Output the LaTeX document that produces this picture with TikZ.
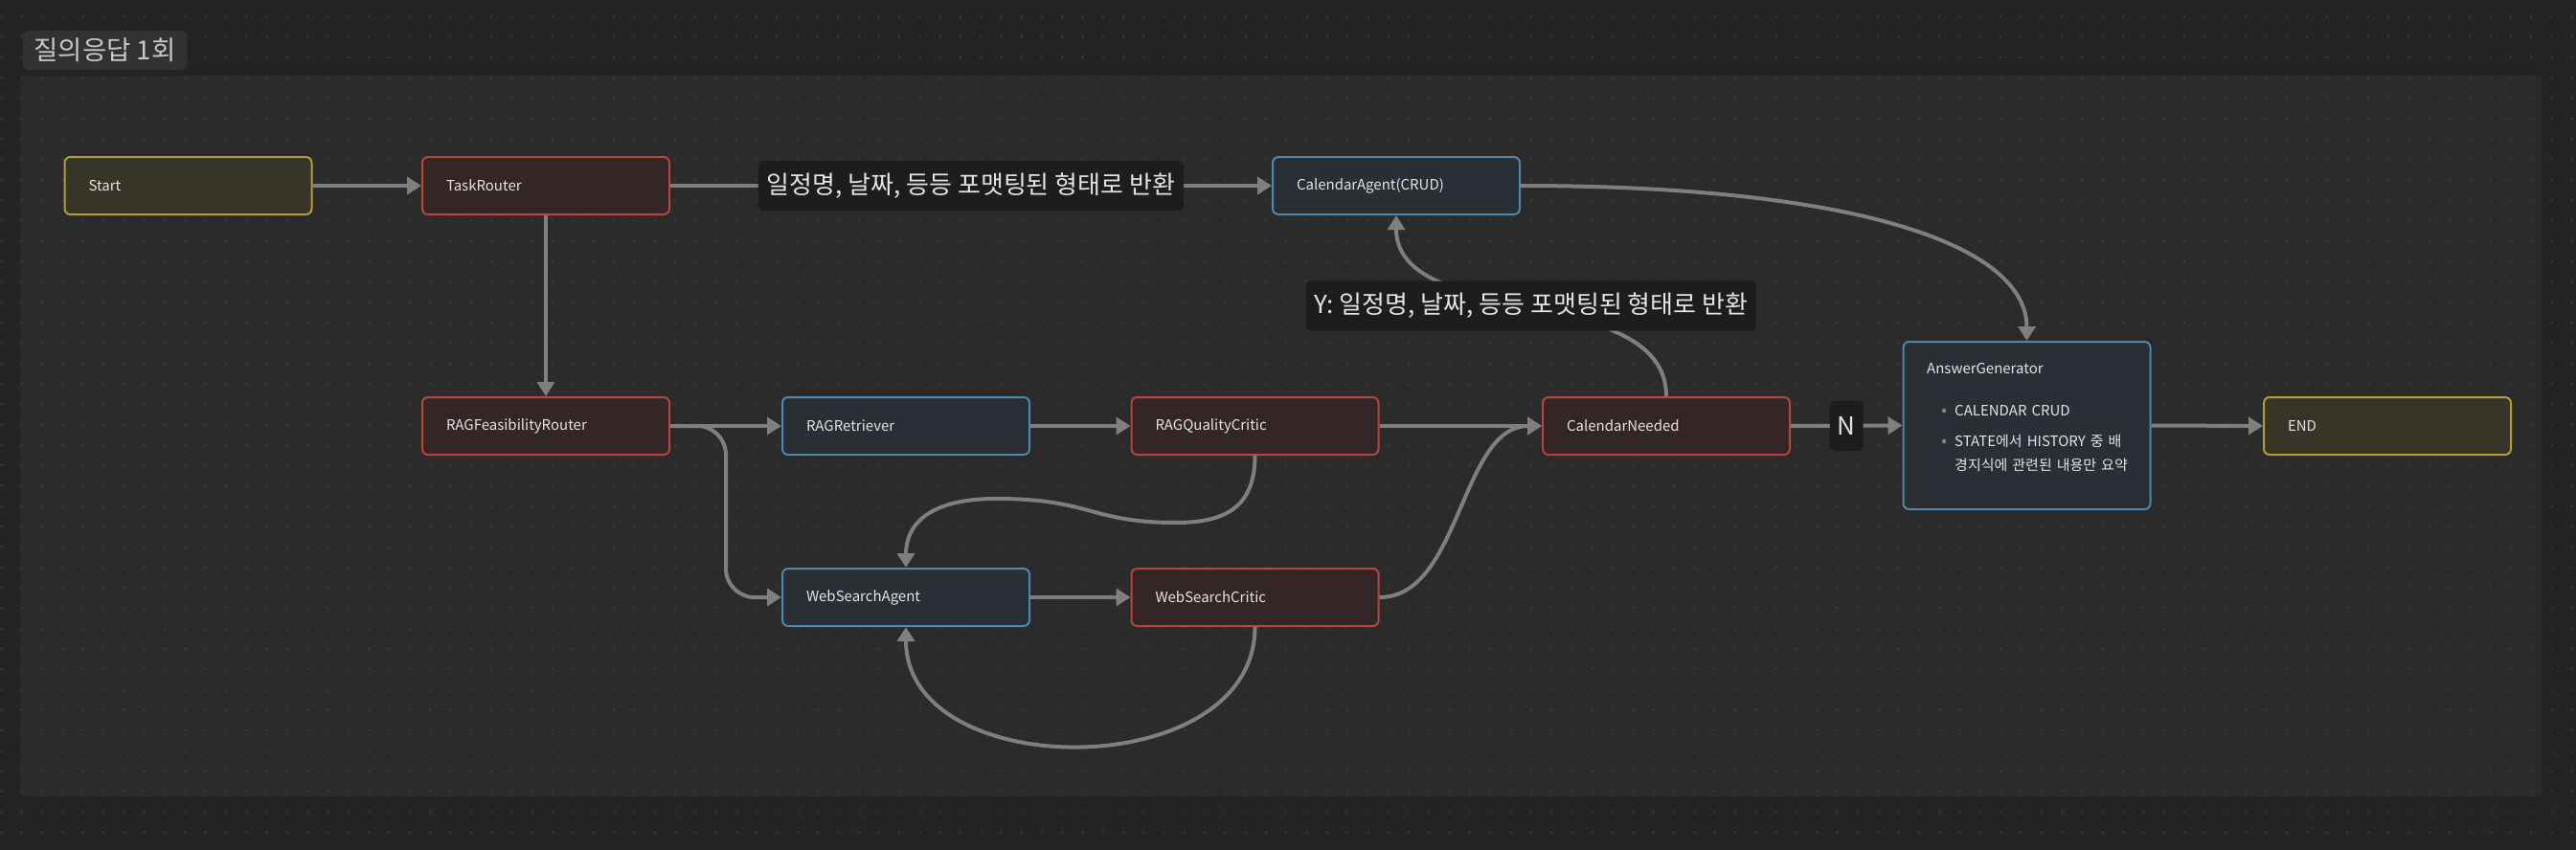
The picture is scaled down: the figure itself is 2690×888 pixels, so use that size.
\documentclass[tikz,border=0pt]{standalone}
\usepackage{fontspec}
\setmainfont{Noto Sans CJK KR}
\usetikzlibrary{arrows.meta}
\definecolor{bgouter}{HTML}{242424}
\definecolor{bggroup}{HTML}{2B2B2B}
\definecolor{griddot}{HTML}{3A3A3A}
\definecolor{flowgrey}{HTML}{7F7F7F}
\definecolor{nodetext}{HTML}{E4E4E4}
\definecolor{endfill}{HTML}{373428}
\definecolor{enddraw}{HTML}{B49B3C}
\definecolor{routefill}{HTML}{342626}
\definecolor{routedraw}{HTML}{B4463C}
\definecolor{agentfill}{HTML}{2A2F35}
\definecolor{agentdraw}{HTML}{5087AA}
\definecolor{labelfill}{HTML}{1D1D1D}
\definecolor{badgefill}{HTML}{323232}
\definecolor{badgetext}{HTML}{C8C8C8}
\definecolor{bulletgrey}{HTML}{8A8A8A}
\newcommand{\agitem}[1]{\noindent\llap{\textcolor{bulletgrey}{\fontsize{17pt}{17pt}\selectfont\textbullet}\hspace{8pt}}#1\par}
\begin{document}
\begin{tikzpicture}[x=1pt, y=-1pt,
    box/.style={rectangle, rounded corners=6pt, line width=2pt, minimum width=258pt,
      minimum height=60pt, inner xsep=25pt, text width=208pt, align=left,
      text=nodetext, font=\fontsize{15pt}{18pt}\selectfont},
    endbox/.style={box, fill=endfill, draw=enddraw},
    routebox/.style={box, fill=routefill, draw=routedraw},
    agentbox/.style={box, fill=agentfill, draw=agentdraw},
    flow/.style={draw=flowgrey, line width=4pt, -{Triangle[length=15pt,width=18pt]}},
    edgelabel/.style={fill=labelfill, rounded corners=5pt, text=nodetext, inner xsep=9pt,
      minimum height=52pt, font=\fontsize{26pt}{30pt}\selectfont},
    nlabel/.style={edgelabel, inner xsep=8pt},
    titlebadge/.style={fill=badgefill, rounded corners=6pt, text=badgetext, inner xsep=12pt,
      minimum height=41pt, font=\fontsize{27.5pt}{30pt}\selectfont}]
  \useasboundingbox (0,0) rectangle (2690,888);
  \fill[bgouter] (0,0) rectangle (2690,888);
  \fill[bggroup, rounded corners=6pt] (21,79) rectangle (2655,832);
  \foreach \i in {0,...,126}
    \foreach \j in {0,...,41}
      \fill[griddot] (1.7+21.3*\i, 17.3+21.3*\j) circle (1.3);

  \node[titlebadge] (title) at (109.5,52.5) {질의응답 1회};

  % nodes
  \node[endbox] (start) at (196.5,194) {Start};
  \node[routebox] (taskrouter) at (570,194) {TaskRouter};
  \node[agentbox] (calagent) at (1458,194) {CalendarAgent(CRUD)};
  \node[routebox] (ragrouter) at (570,445) {RAGFeasibilityRouter};
  \node[agentbox] (ragretriever) at (946,445) {RAGRetriever};
  \node[routebox] (ragcritic) at (1310.5,445) {RAGQualityCritic};
  \node[agentbox] (websearch) at (946,624) {WebSearchAgent};
  \node[routebox] (webcritic) at (1310.5,624) {WebSearchCritic};
  \node[routebox] (calneeded) at (1740,445) {CalendarNeeded};
  \node[agentbox, minimum height=175pt] (answergen) at (2116.5,444.5) {};
  \node[anchor=north west, inner sep=0pt, text width=215pt, align=left, text=nodetext,
    font=\fontsize{15pt}{25pt}\selectfont] (answerbody) at (2012,379.5)
    {AnswerGenerator\par\vspace{19pt}
     {\leftskip=29pt
      \agitem{CALENDAR CRUD}\vspace{7pt}
      \agitem{STATE에서 HISTORY 중 배\newline 경지식에 관련된 내용만 요약}}};
  \node[endbox] (end) at (2493,445) {END};

  % edges
  \draw[flow] (start.east) -- (taskrouter.west);
  \draw[flow] (taskrouter.east) -- node[edgelabel] (fmtlabel) {일정명, 날짜, 등등 포맷팅된 형태로 반환} (calagent.west);
  \draw[flow] (taskrouter.south) -- (ragrouter.north);
  \draw[flow] (ragrouter.east) -- (ragretriever.west);
  \draw[flow, rounded corners=30pt] (ragrouter.east) -- ++(58,0) |- (websearch.west);
  \draw[flow] (ragretriever.east) -- (ragcritic.west);
  \draw[flow] (ragcritic.south) .. controls +(0,55) and +(50,0) .. (1228,546)
    .. controls +(-90,0) and +(100,0) .. (1040,521)
    .. controls +(-70,0) and +(0,-45) .. (websearch.north);
  \draw[flow] (websearch.east) -- (webcritic.west);
  \draw[flow] (webcritic.south) .. controls +(0,165) and +(0,165) .. (websearch.south);
  \draw[flow] (ragcritic.east) -- (calneeded.west);
  \draw[flow] (webcritic.east) .. controls +(85,0) and +(-85,0) .. (calneeded.west);
  \draw[flow] (calneeded.north) .. controls +(0,-120) and +(0,120) .. (calagent.south)
    node[edgelabel, pos=0.5] (ylabel) {Y: 일정명, 날짜, 등등 포맷팅된 형태로 반환};
  \draw[flow] (calagent.east) .. controls +(350,0) and +(0,-100) .. (answergen.north);
  \draw[flow] (calneeded.east) -- node[nlabel] (nlabel) {N} (answergen.west);
  \draw[flow] (answergen.east) -- (end.west);
\end{tikzpicture}
\end{document}
